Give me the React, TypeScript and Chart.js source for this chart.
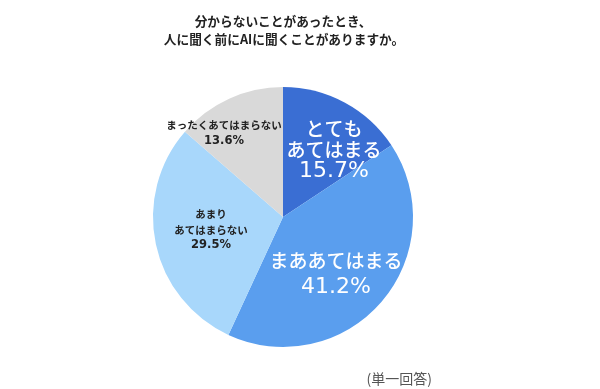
import React, { useEffect, useRef } from "react";
import { Chart, registerables } from "chart.js";

Chart.register(...registerables);

const titleLines = ["分からないことがあったとき、", "人に聞く前にAIに聞くことがありますか。"];
const categories = ["とてもあてはまる", "まああてはまる", "あまりあてはまらない", "まったくあてはまらない"];
const values = [15.7, 41.2, 29.5, 13.6];
const labelLines = [["とても", "あてはまる"], ["まああてはまる"], ["あまり", "あてはまらない"], ["まったくあてはまらない"]];
const colors = ["#3a6ed3", "#5a9eee", "#a8d7fb", "#d9d9d9"];
const note = "(単一回答)";

const FONT = '"Noto Sans CJK JP", "Noto Sans", sans-serif';
const NUMFONT = '"DejaVu Sans", sans-serif';

const labelStyles = [
  { dx: 51, dy: -67, lh: 21.5, font: `500 19px ${FONT}`, pfont: `500 22px ${NUMFONT}`, color: "#ffffff" },
  { dx: 53, dy: 57, lh: 26, font: `500 19px ${FONT}`, pfont: `500 22px ${NUMFONT}`, color: "#ffffff" },
  { dx: -72, dy: 13, lh: 15.5, font: `bold 10.5px ${FONT}`, pfont: `bold 11.5px ${NUMFONT}`, color: "#222222" },
  { dx: -59, dy: -83.5, lh: 16, font: `bold 10.5px ${FONT}`, pfont: `bold 11.5px ${NUMFONT}`, color: "#222222" },
];

const textPlugin = {
  id: "textPlugin",
  afterDraw(chart: any) {
    const ctx = chart.ctx;
    ctx.save();
    // title
    ctx.fillStyle = "#222222";
    ctx.font = `bold 12.7px ${FONT}`;
    ctx.textAlign = "center";
    ctx.textBaseline = "middle";
    ctx.fillText(titleLines[0], 283, 21);
    ctx.fillText(titleLines[1], 284, 39);
    // slice labels
    const meta = chart.getDatasetMeta(0);
    meta.data.forEach((arc: any, i: number) => {
      const st = labelStyles[i];
      const lines = [...labelLines[i], values[i].toFixed(1) + "%"];
      ctx.fillStyle = st.color;
      const n = lines.length;
      lines.forEach((t, k) => {
        ctx.font = k === n - 1 ? st.pfont : st.font;
        const y = arc.y + st.dy + (k - (n - 1) / 2) * st.lh;
        ctx.fillText(t, arc.x + st.dx, y);
      });
    });
    // note
    ctx.font = `normal 14px ${FONT}`;
    ctx.fillStyle = "#555555";
    ctx.textAlign = "right";
    ctx.fillText(note, 432, 379);
    ctx.restore();
  },
};

export default function App() {
  const ref = useRef<HTMLCanvasElement>(null);
  useEffect(() => {
    document.body.style.margin = "0";
    const chart = new Chart(ref.current!, {
      type: "pie",
      data: {
        labels: categories,
        datasets: [
          {
            data: values,
            backgroundColor: colors,
            borderWidth: 0,
          },
        ],
      },
      options: {
        responsive: false,
        animation: false,
        devicePixelRatio: 1,
        layout: { padding: { top: 87, bottom: 42, left: 153, right: 187 } },
        plugins: {
          legend: { display: false },
          title: { display: false },
          tooltip: { enabled: false },
        },
      },
      plugins: [textPlugin],
    });
    return () => chart.destroy();
  }, []);
  return (
    <div style={{ position: "absolute", left: 0, top: 0, width: 600, height: 389, background: "#fff" }}>
      <canvas ref={ref} width={600} height={389} />
    </div>
  );
}
